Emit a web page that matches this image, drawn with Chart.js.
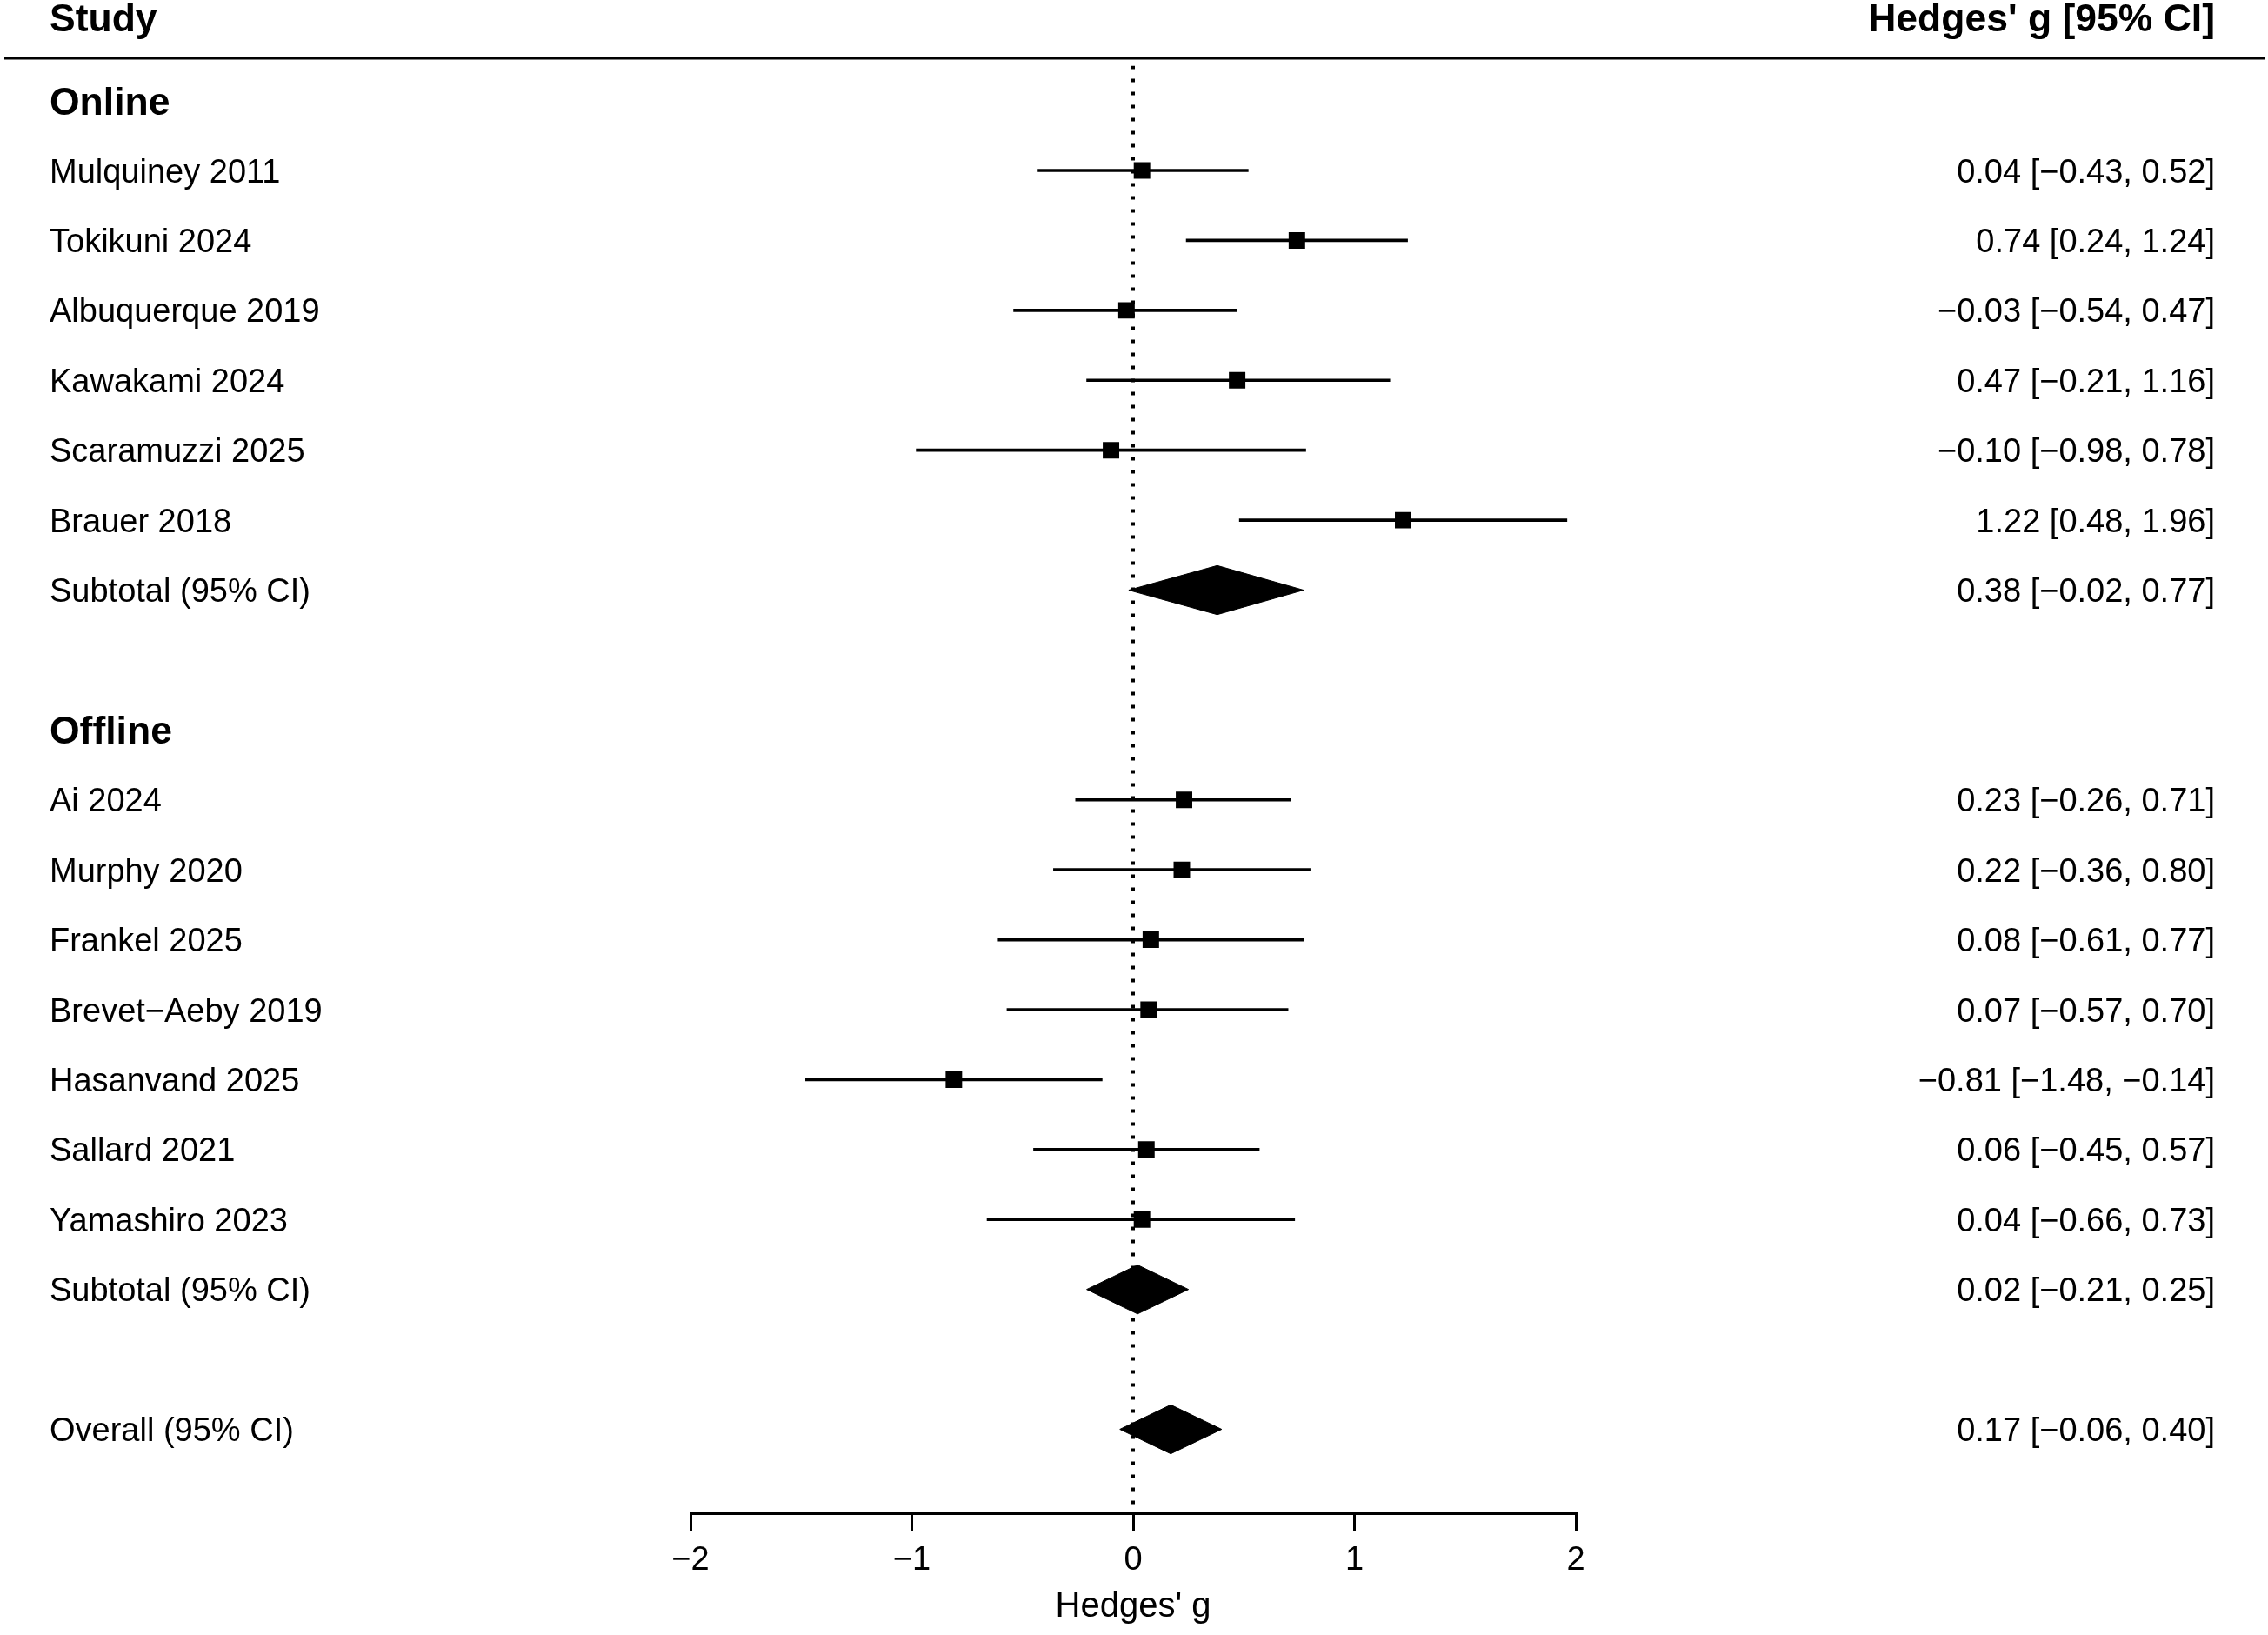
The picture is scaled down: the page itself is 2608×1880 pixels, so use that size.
<!DOCTYPE html>
<html>
<head>
<meta charset="utf-8">
<title>Forest plot - Hedges' g</title>
<script src="https://cdn.jsdelivr.net/npm/chart.js@4.4.1/dist/chart.umd.min.js"></script>
<style>
  html, body { margin: 0; padding: 0; background: #fff; }
  #forest { display: block; }
</style>
</head>
<body>
<canvas id="forest" width="2608" height="1880"></canvas>
<script>
// values
const onlineStudies = ['Mulquiney 2011', 'Tokikuni 2024', 'Albuquerque 2019', 'Kawakami 2024', 'Scaramuzzi 2025', 'Brauer 2018'];
const onlineG = [0.04, 0.74, -0.03, 0.47, -0.10, 1.22];
const onlineLower = [-0.43, 0.24, -0.54, -0.21, -0.98, 0.48];
const onlineUpper = [0.52, 1.24, 0.47, 1.16, 0.78, 1.96];

const offlineStudies = ['Ai 2024', 'Murphy 2020', 'Frankel 2025', 'Brevet\u2212Aeby 2019', 'Hasanvand 2025', 'Sallard 2021', 'Yamashiro 2023'];
const offlineG = [0.23, 0.22, 0.08, 0.07, -0.81, 0.06, 0.04];
const offlineLower = [-0.26, -0.36, -0.61, -0.57, -1.48, -0.45, -0.66];
const offlineUpper = [0.71, 0.80, 0.77, 0.70, -0.14, 0.57, 0.73];

// pooled: [g, lower, upper]
const subtotalOnline = [0.38, -0.02, 0.77];
const subtotalOffline = [0.02, -0.21, 0.25];
const overallEffect = [0.17, -0.06, 0.40];

const tickValues = [-2, -1, 0, 1, 2];
const tickLabels = ['\u22122', '\u22121', '0', '1', '2'];

const FONT = '"Liberation Sans", Arial, Helvetica, sans-serif';
Chart.defaults.font.family = FONT;
Chart.defaults.color = '#000';

// one row per line of the table
const rows = [];
function addGroup(name, studies, g, lo, hi, pooled) {
  rows.push({ label: name, kind: 'group' });
  studies.forEach(function (s, i) {
    rows.push({ label: s, kind: 'study', g: g[i], lo: lo[i], hi: hi[i] });
  });
  rows.push({ label: 'Subtotal (95% CI)', kind: 'pooled', g: pooled[0], lo: pooled[1], hi: pooled[2] });
  rows.push({ label: '', kind: 'blank' });
}
addGroup('Online', onlineStudies, onlineG, onlineLower, onlineUpper, subtotalOnline);
addGroup('Offline', offlineStudies, offlineG, offlineLower, offlineUpper, subtotalOffline);
rows.push({ label: 'Overall (95% CI)', kind: 'pooled', g: overallEffect[0], lo: overallEffect[1], hi: overallEffect[2] });

function fmt(v) {
  return (v < 0 ? '\u2212' : '') + Math.abs(v).toFixed(2);
}

const whiskers = [];
const squares = [];
const diamonds = [];
rows.forEach(function (r, k) {
  if (r.kind === 'study') {
    whiskers.push({ x: [r.lo, r.hi], y: k });
    squares.push({ x: r.g, y: k });
  } else if (r.kind === 'pooled') {
    const h = 0.35;
    diamonds.push({
      type: 'scatter',
      data: [{ x: r.lo, y: k }, { x: r.g, y: k - h }, { x: r.hi, y: k }, { x: r.g, y: k + h }, { x: r.lo, y: k }],
      showLine: true,
      fill: 'shape',
      tension: 0,
      backgroundColor: '#000',
      borderColor: '#000',
      borderWidth: 1,
      pointRadius: 0,
      order: 0
    });
  }
});

const yTop = -0.5;
const yBottom = 20.2;

// texts of the two columns
const tablePlugin = {
  id: 'tableText',
  afterDraw: function (chart) {
    const ctx = chart.ctx;
    const y = chart.scales.y;
    const leftX = 57;
    const rightX = 2547;
    ctx.save();
    ctx.fillStyle = '#000';
    ctx.textBaseline = 'alphabetic';

    // header
    ctx.font = 'bold 44.5px ' + FONT;
    const hy = y.getPixelForValue(-1.19) + 16;
    ctx.textAlign = 'left';
    ctx.fillText('Study', leftX, hy);
    ctx.textAlign = 'right';
    ctx.fillText('Hedges\' g [95% CI]', rightX, hy);

    ctx.strokeStyle = '#000';
    ctx.lineWidth = 3.5;
    ctx.beginPath();
    const ly = y.getPixelForValue(-0.608);
    ctx.moveTo(5, ly);
    ctx.lineTo(2605, ly);
    ctx.stroke();

    rows.forEach(function (r, k) {
      const py = y.getPixelForValue(k);
      if (r.kind === 'group') {
        ctx.font = 'bold 44.5px ' + FONT;
        ctx.textAlign = 'left';
        ctx.fillText(r.label, leftX, py + 16);
      } else if (r.kind === 'study' || r.kind === 'pooled') {
        ctx.font = '38px ' + FONT;
        ctx.textAlign = 'left';
        ctx.fillText(r.label, leftX, py + 13.6);
        ctx.textAlign = 'right';
        ctx.fillText(fmt(r.g) + ' [' + fmt(r.lo) + ', ' + fmt(r.hi) + ']', rightX, py + 13.6);
      }
    });
    ctx.restore();
  }
};

const ctx = document.getElementById('forest').getContext('2d');

const config = {
  type: 'scatter',
  data: {
    datasets: [
      {
        type: 'scatter',
        data: [{ x: 0, y: yTop }, { x: 0, y: yBottom }],
        showLine: true,
        borderColor: '#000',
        borderWidth: 4,
        borderDash: [4, 11],
        borderCapStyle: 'butt',
        pointRadius: 0,
        order: 10
      },
      {
        type: 'bar',
        indexAxis: 'y',
        data: whiskers,
        backgroundColor: '#000',
        borderWidth: 0,
        barThickness: 3,
        grouped: false,
        order: 2
      },
      {
        type: 'scatter',
        data: squares,
        pointStyle: 'rect',
        pointRadius: 13.4,
        backgroundColor: '#000',
        borderWidth: 0,
        order: 1
      }
    ].concat(diamonds)
  },
  options: {
    responsive: false,
    devicePixelRatio: 1,
    animation: false,
    layout: { padding: { top: 75.4, bottom: 0, left: 794, right: 796 } },
    plugins: {
      legend: { display: false },
      tooltip: { enabled: false }
    },
    scales: {
      x: {
        type: 'linear',
        position: 'bottom',
        min: -2,
        max: 2,
        offset: false,
        afterBuildTicks: function (scale) {
          scale.ticks = tickValues.map(function (v) { return { value: v }; });
        },
        afterFit: function (scale) { scale.height = 140; },
        grid: {
          display: true,
          offset: false,
          drawOnChartArea: false,
          drawTicks: true,
          tickLength: 20,
          color: '#000',
          lineWidth: 3
        },
        border: { display: true, color: '#000', width: 3 },
        ticks: {
          autoSkip: false,
          maxRotation: 0,
          padding: 12,
          color: '#000',
          font: { size: 38 },
          callback: function (value) {
            const i = tickValues.indexOf(value);
            return i >= 0 ? tickLabels[i] : '';
          }
        },
        title: {
          display: true,
          text: 'Hedges\' g',
          color: '#000',
          font: { size: 40 },
          padding: { top: 0, bottom: 8 }
        }
      },
      y: {
        type: 'linear',
        display: false,
        reverse: true,
        offset: false,
        grid: { offset: false },
        min: yTop,
        max: yBottom
      }
    }
  },
  plugins: [tablePlugin]
};

const chart = new Chart(ctx, config);
</script>
</body>
</html>
